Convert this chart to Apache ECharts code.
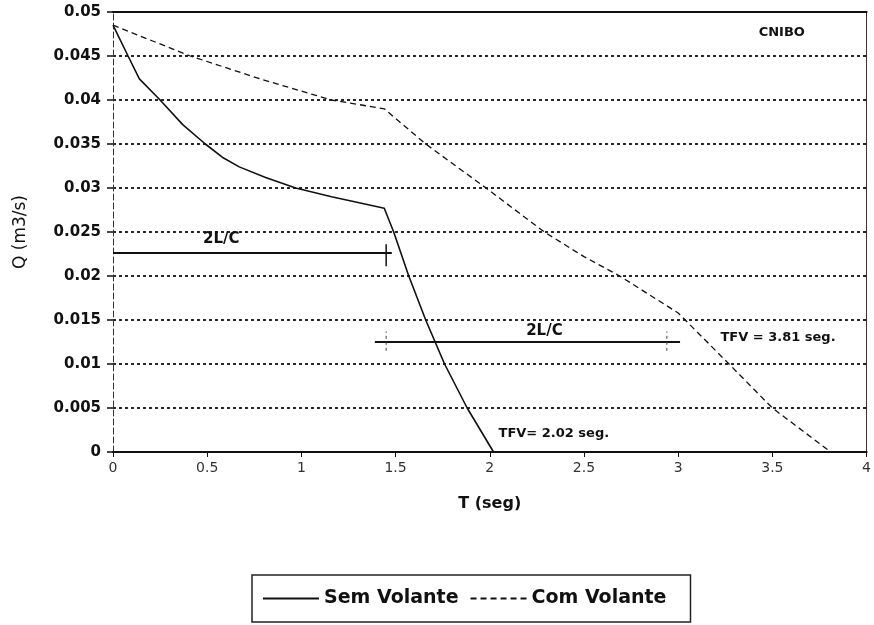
<!DOCTYPE html>
<html>
<head>
<meta charset="utf-8">
<script src="https://cdn.jsdelivr.net/npm/echarts@6/dist/echarts.min.js"></script>
<style>html,body{margin:0;padding:0;background:#fff}#c{width:874px;height:625px}</style>
</head>
<body>
<div id="c"></div>
<script>
// Sem Volante (solid)
var semT = [0, 0.08, 0.14, 0.25, 0.37, 0.49, 0.58, 0.67, 0.81, 0.97, 1.16, 1.27, 1.44, 1.49, 1.57, 1.66, 1.76, 1.88, 2.02];
var semQ = [0.0485, 0.045, 0.0424, 0.040, 0.0372, 0.035, 0.0335, 0.0324, 0.0312, 0.030, 0.0290, 0.0285, 0.0277, 0.025, 0.020, 0.015, 0.010, 0.005, 0];
// Com Volante (dashed)
var comT = [0, 0.41, 0.78, 1.16, 1.44, 1.66, 1.98, 2.29, 2.50, 2.69, 3.0, 3.27, 3.50, 3.81];
var comQ = [0.0485, 0.045, 0.0424, 0.040, 0.039, 0.035, 0.030, 0.025, 0.0222, 0.020, 0.0158, 0.010, 0.005, 0];
// 2L/C spans
var span1T = [0, 1.48];
var span1Q = 0.0226;
var tick1T = 1.45;
var tick1Q = [0.0211, 0.0236];
var span2T = [1.39, 3.01];
var span2Q = 0.0125;
var tick2T = [1.45, 2.94];
var tick2Q = [0.0115, 0.0137];
// annotations: text, T, Q
var noteText = ['2L/C', '2L/C', 'CNIBO', 'TFV = 3.81 seg.', 'TFV= 2.02 seg.'];
var noteT = [0.575, 2.29, 3.55, 3.53, 2.34];
var noteQ = [0.0242, 0.01377, 0.0477, 0.01297, 0.0021];
var noteSize = [15, 15, 13, 13, 13];

var xMin = 0, xMax = 4, xStep = 0.5;
var yMin = 0, yMax = 0.05, yStep = 0.005;

function zip(a, b) { return a.map(function (v, i) { return [v, b[i]]; }); }

var FONT = 'DejaVu Sans';
var ink = '#111';

var series = [
  { name: 'Sem Volante', type: 'line', data: zip(semT, semQ), symbol: 'none', showSymbol: false,
    lineStyle: { color: ink, width: 1.6, type: 'solid' }, itemStyle: { color: ink }, z: 5 },
  { name: 'Com Volante', type: 'line', data: zip(comT, comQ), symbol: 'none', showSymbol: false,
    lineStyle: { color: ink, width: 1.3, type: [6, 4] }, itemStyle: { color: ink }, z: 5 },
  { name: 'span1', type: 'line', data: span1T.map(function (t) { return [t, span1Q]; }), symbol: 'none',
    lineStyle: { color: ink, width: 2 }, silent: true },
  { name: 'tick1', type: 'line', data: tick1Q.map(function (q) { return [tick1T, q]; }), symbol: 'none',
    lineStyle: { color: ink, width: 1.5 }, silent: true },
  { name: 'span2', type: 'line', data: span2T.map(function (t) { return [t, span2Q]; }), symbol: 'none',
    lineStyle: { color: ink, width: 2 }, silent: true }
];
tick2T.forEach(function (t, i) {
  series.push({ name: 'tick2_' + i, type: 'line', data: tick2Q.map(function (q) { return [t, q]; }), symbol: 'none',
    lineStyle: { color: '#444', width: 1, type: [3, 3] }, silent: true });
});
series.push({
  name: 'notes', type: 'scatter', symbolSize: 1, silent: true,
  itemStyle: { color: 'rgba(0,0,0,0)', opacity: 1 },
  data: noteText.map(function (s, i) {
    return { value: [noteT[i], noteQ[i]], label: { show: true, position: 'inside', formatter: s,
      fontFamily: FONT, fontWeight: 'bold', fontSize: noteSize[i], color: ink, opacity: 1,
      textBorderWidth: 0 } };
  })
});

var chart = echarts.init(document.getElementById('c'), null, { renderer: 'canvas' });
chart.setOption({
  backgroundColor: '#fff',
  animation: false,
  grid: { left: 113, right: 3, top: 12, bottom: 173, containLabel: false },
  legend: {
    data: ['Sem Volante', 'Com Volante'],
    left: 252, top: 575,
    orient: 'horizontal',
    itemWidth: 56, itemHeight: 14, itemGap: 11,
    padding: [14, 24, 14, 10],
    borderColor: '#222', borderWidth: 1.5,
    itemStyle: { color: 'rgba(0,0,0,0)', borderWidth: 0, opacity: 0 },
    textStyle: { fontFamily: FONT, fontWeight: 'bold', fontSize: 19, color: ink }
  },
  xAxis: [{
    type: 'value', min: xMin, max: xMax, interval: xStep,
    name: 'T (seg)', nameLocation: 'middle', nameGap: 44,
    nameTextStyle: { fontFamily: FONT, fontWeight: 'bold', fontSize: 16, color: ink },
    axisLine: { show: true, onZero: false, lineStyle: { color: ink, width: 2.2 } },
    axisTick: { show: true, length: 5, lineStyle: { color: ink } },
    axisLabel: { fontFamily: FONT, fontSize: 14, color: '#333', margin: 9 },
    splitLine: { show: false }
  }, {
    type: 'value', position: 'top', min: xMin, max: xMax,
    axisLine: { show: true, onZero: false, lineStyle: { color: ink, width: 2.2 } },
    axisTick: { show: false }, axisLabel: { show: false }, splitLine: { show: false }
  }],
  yAxis: [{
    type: 'value', min: yMin, max: yMax, interval: yStep,
    name: 'Q (m3/s)', nameLocation: 'middle', nameGap: 84, nameRotate: 90,
    nameTextStyle: { fontFamily: FONT, fontSize: 17, color: ink },
    axisLine: { show: true, onZero: false, lineStyle: { color: '#333', width: 1, type: [6, 3] } },
    axisTick: { show: true, length: 6, lineStyle: { color: ink, width: 1.5 } },
    axisLabel: { fontFamily: FONT, fontWeight: 'bold', fontSize: 15, color: ink, margin: 12 },
    splitLine: { show: true, lineStyle: { color: '#111', width: 1.8, type: [3, 3] } }
  }, {
    type: 'value', position: 'right', min: yMin, max: yMax,
    axisLine: { show: true, onZero: false, lineStyle: { color: '#333', width: 1 } },
    axisTick: { show: false }, axisLabel: { show: false }, splitLine: { show: false }
  }],
  series: series
});
</script>
</body>
</html>
